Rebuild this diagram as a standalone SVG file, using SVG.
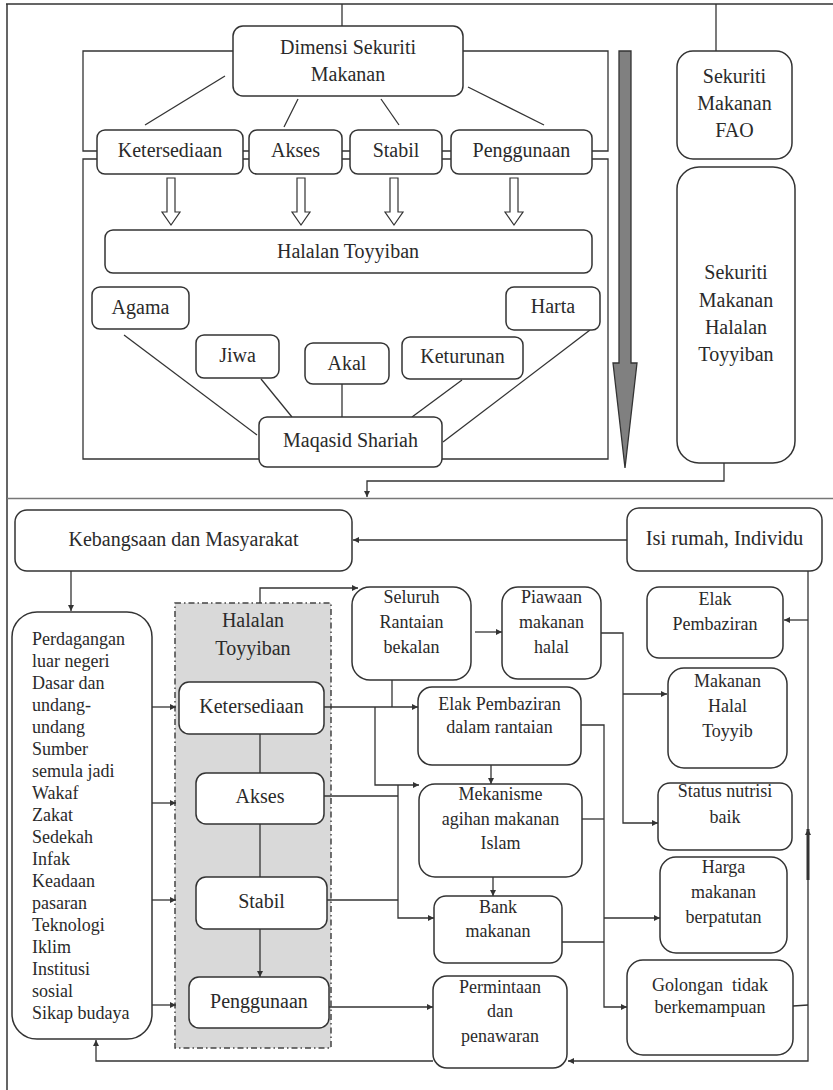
<svg xmlns="http://www.w3.org/2000/svg" width="833" height="1090" viewBox="0 0 833 1090">
<defs>
<style>
.b{fill:#fff;stroke:#333;stroke-width:1.5}
.c{fill:none;stroke:#333;stroke-width:1.3}
.t{font-family:"Liberation Serif","Times New Roman",serif;font-size:20px;fill:#2a2a2a;text-anchor:middle}
.s{font-size:18px}
.l{text-anchor:start}
.ha{fill:#fff;stroke:#333;stroke-width:1.2}
</style>
<marker id="a" viewBox="0 0 10 10" refX="10" refY="5" markerWidth="8" markerHeight="6" orient="auto" markerUnits="userSpaceOnUse"><path d="M0,0 L10,5 L0,10 z" fill="#333"/></marker>
</defs>
<rect width="833" height="1090" fill="#fff"/>
<g id="frame" fill="none">
<path d="M6,4 H833 M7,4 V1090" stroke="#333" stroke-width="1.5"/>
<path d="M7,498.5 H833" stroke="#777" stroke-width="1.5"/>
</g>
<g id="halal-dashed">
<rect x="175" y="603" width="156" height="445" fill="#d9d9d9" stroke="#444" stroke-width="1.5" stroke-dasharray="6 3 1.5 3"/>
<text class="t" x="253" y="627">Halalan</text>
<text class="t" x="253" y="655">Toyyiban</text>
</g>
<g id="connectors" class="c">
<path d="M342,4 V26"/>
<path d="M716,4 V51"/>
<path d="M233,51 H83 V151 H608 V51 H463"/>
<path d="M83,159 V459 H608 V159 Z"/>
<path d="M225,76 L145,125"/>
<path d="M298,99 L284,127"/>
<path d="M381,99 L399,125"/>
<path d="M468,87 L544,125"/>
<path d="M124,335 L257,435"/>
<path d="M261,379 L292,417"/>
<path d="M342,384 V417"/>
<path d="M462,380 L412,417"/>
<path d="M590,330 L443,442"/>
<path d="M724,463 V481 H367 V497" marker-end="url(#a)"/>
<path d="M627,540 H353" marker-end="url(#a)"/>
<path d="M71,571 V611" marker-end="url(#a)"/>
<path d="M152,707 H176" marker-end="url(#a)"/>
<path d="M152,803 H176" marker-end="url(#a)"/>
<path d="M152,900 H176" marker-end="url(#a)"/>
<path d="M152,1005 H176" marker-end="url(#a)"/>
<path d="M260,734 V773"/>
<path d="M260,824 V877"/>
<path d="M260,929 V977" marker-end="url(#a)"/>
<path d="M260,603 V588 H358" marker-end="url(#a)"/>
<path d="M475,632 H502" marker-end="url(#a)"/>
<path d="M324,707 H418" marker-end="url(#a)"/>
<path d="M392,680 V707"/>
<path d="M375,707 V785 H419" marker-end="url(#a)"/>
<path d="M324,796 H398"/>
<path d="M327,900 H398"/>
<path d="M398,785 V918 H434" marker-end="url(#a)"/>
<path d="M491,765 V784" marker-end="url(#a)"/>
<path d="M493,877 V896" marker-end="url(#a)"/>
<path d="M329,1007 H433" marker-end="url(#a)"/>
<path d="M601,633 H623 V823 H658" marker-end="url(#a)"/>
<path d="M623,694 H667" marker-end="url(#a)"/>
<path d="M581,725 H604 V1007 H627" marker-end="url(#a)"/>
<path d="M582,819 H604"/>
<path d="M562,942 H604"/>
<path d="M604,918 H660" marker-end="url(#a)"/>
<path d="M808,571 V1061 H568" marker-end="url(#a)"/>
<path d="M808,620 H784" marker-end="url(#a)"/>
<path d="M433,1061 H96 V1040" marker-end="url(#a)"/>
<path d="M793,1006 L808,1005"/>
<path d="M808,880 V829" stroke-width="3" marker-end="url(#a)"/>
</g>
<g id="hollow-arrows" class="ha">
<polygon points="167,178 175,178 175,212 180,212 171,225 162,212 167,212"/>
<polygon points="297,178 305,178 305,212 310,212 301,225 292,212 297,212"/>
<polygon points="390,178 398,178 398,212 403,212 394,225 385,212 390,212"/>
<polygon points="510,178 518,178 518,212 523,212 514,225 505,212 510,212"/>
</g>
<g id="gray-arrow">
<polygon points="619,51 631,51 631,363 637,363 625,468 613,363 619,363" fill="#808080" stroke="#333" stroke-width="1.3"/>
</g>
<g id="dimensi"><rect class="b" x="233" y="26" width="230" height="70" rx="10"/><text class="t" x="348" y="54">Dimensi Sekuriti</text><text class="t" x="348" y="81">Makanan</text></g>
<g id="ketersediaan-top"><rect class="b" x="97" y="130" width="146" height="44" rx="8"/><text class="t" x="170" y="157">Ketersediaan</text></g>
<g id="akses-top"><rect class="b" x="249" y="130" width="93" height="44" rx="8"/><text class="t" x="295.5" y="157">Akses</text></g>
<g id="stabil-top"><rect class="b" x="350" y="130" width="92" height="44" rx="8"/><text class="t" x="396" y="157">Stabil</text></g>
<g id="penggunaan-top"><rect class="b" x="451" y="130" width="141" height="44" rx="8"/><text class="t" x="521.5" y="157">Penggunaan</text></g>
<g id="halalan-top"><rect class="b" x="105" y="230" width="487" height="43" rx="8"/><text class="t" x="348" y="258">Halalan Toyyiban</text></g>
<g id="agama"><rect class="b" x="92" y="287" width="97" height="42" rx="8"/><text class="t" x="140.5" y="314">Agama</text></g>
<g id="jiwa"><rect class="b" x="196" y="335" width="83" height="43" rx="8"/><text class="t" x="237.5" y="362">Jiwa</text></g>
<g id="akal"><rect class="b" x="305" y="343" width="84" height="41" rx="8"/><text class="t" x="347" y="370">Akal</text></g>
<g id="keturunan"><rect class="b" x="402" y="337" width="121" height="42" rx="8"/><text class="t" x="462.5" y="363">Keturunan</text></g>
<g id="harta"><rect class="b" x="506" y="287" width="94" height="43" rx="8"/><text class="t" x="553" y="313">Harta</text></g>
<g id="maqasid"><rect class="b" x="259" y="417" width="183" height="50" rx="8"/><text class="t" x="350.5" y="447">Maqasid Shariah</text></g>
<g id="fao"><rect class="b" x="677" y="51" width="115" height="108" rx="16"/><text class="t" x="734.5" y="83">Sekuriti</text><text class="t" x="734.5" y="110">Makanan</text><text class="t" x="734.5" y="137">FAO</text></g>
<g id="smht"><rect class="b" x="677" y="167" width="118" height="296" rx="22"/><text class="t" x="736" y="279">Sekuriti</text><text class="t" x="736" y="307">Makanan</text><text class="t" x="736" y="334">Halalan</text><text class="t" x="736" y="361">Toyyiban</text></g>
<g id="kebangsaan"><rect class="b" x="15" y="510" width="337" height="61" rx="12"/><text class="t" x="183.5" y="546">Kebangsaan dan Masyarakat</text></g>
<g id="isi-rumah"><rect class="b" x="627" y="508" width="195" height="63" rx="12"/><text class="t" x="724.5" y="545" style="font-size:20.5px">Isi rumah, Individu</text></g>
<g id="perdagangan"><rect class="b" x="12" y="612" width="140" height="427" rx="25"/>
<text class="t s l" x="32" y="645">Perdagangan</text>
<text class="t s l" x="32" y="667">luar negeri</text>
<text class="t s l" x="32" y="689">Dasar dan</text>
<text class="t s l" x="32" y="711">undang-</text>
<text class="t s l" x="32" y="733">undang</text>
<text class="t s l" x="32" y="755">Sumber</text>
<text class="t s l" x="32" y="777">semula jadi</text>
<text class="t s l" x="32" y="799">Wakaf</text>
<text class="t s l" x="32" y="821">Zakat</text>
<text class="t s l" x="32" y="843">Sedekah</text>
<text class="t s l" x="32" y="865">Infak</text>
<text class="t s l" x="32" y="887">Keadaan</text>
<text class="t s l" x="32" y="909">pasaran</text>
<text class="t s l" x="32" y="931">Teknologi</text>
<text class="t s l" x="32" y="953">Iklim</text>
<text class="t s l" x="32" y="975">Institusi</text>
<text class="t s l" x="32" y="997">sosial</text>
<text class="t s l" x="32" y="1019">Sikap budaya</text>
</g>
<g id="ketersediaan"><rect class="b" x="179" y="682" width="145" height="52" rx="10"/><text class="t" x="251.5" y="713">Ketersediaan</text></g>
<g id="akses"><rect class="b" x="196" y="773" width="128" height="51" rx="10"/><text class="t" x="260" y="803">Akses</text></g>
<g id="stabil"><rect class="b" x="196" y="877" width="131" height="52" rx="10"/><text class="t" x="261.5" y="908">Stabil</text></g>
<g id="penggunaan"><rect class="b" x="189" y="977" width="140" height="51" rx="10"/><text class="t" x="259" y="1008">Penggunaan</text></g>
<g id="seluruh"><rect class="b" x="352" y="587" width="119" height="93" rx="18"/><text class="t s" x="411.5" y="603">Seluruh</text><text class="t s" x="411.5" y="628">Rantaian</text><text class="t s" x="411.5" y="653">bekalan</text></g>
<g id="piawaan"><rect class="b" x="502" y="587" width="99" height="92" rx="16"/><text class="t s" x="551.5" y="603">Piawaan</text><text class="t s" x="551.5" y="628">makanan</text><text class="t s" x="551.5" y="653">halal</text></g>
<g id="elak-rantaian"><rect class="b" x="418" y="687" width="163" height="78" rx="14"/><text class="t s" x="499.5" y="710">Elak Pembaziran</text><text class="t s" x="499.5" y="733">dalam rantaian</text></g>
<g id="mekanisme"><rect class="b" x="419" y="784" width="163" height="93" rx="16"/><text class="t s" x="500.5" y="800">Mekanisme</text><text class="t s" x="500.5" y="825">agihan makanan</text><text class="t s" x="500.5" y="849">Islam</text></g>
<g id="bank"><rect class="b" x="434" y="896" width="128" height="67" rx="12"/><text class="t s" x="498" y="913">Bank</text><text class="t s" x="498" y="937">makanan</text></g>
<g id="permintaan"><rect class="b" x="433" y="976" width="134" height="92" rx="14"/><text class="t s" x="500" y="993">Permintaan</text><text class="t s" x="500" y="1017">dan</text><text class="t s" x="500" y="1042">penawaran</text></g>
<g id="elak-pembaziran"><rect class="b" x="647" y="587" width="136" height="71" rx="12"/><text class="t s" x="715" y="605">Elak</text><text class="t s" x="715" y="630">Pembaziran</text></g>
<g id="makanan-halal"><rect class="b" x="668" y="668" width="119" height="100" rx="16"/><text class="t s" x="727.5" y="687">Makanan</text><text class="t s" x="727.5" y="712">Halal</text><text class="t s" x="727.5" y="737">Toyyib</text></g>
<g id="status"><rect class="b" x="658" y="783" width="134" height="67" rx="12"/><text class="t s" x="725" y="797">Status nutrisi</text><text class="t s" x="725" y="823">baik</text></g>
<g id="harga"><rect class="b" x="660" y="857" width="127" height="96" rx="16"/><text class="t s" x="723.5" y="873">Harga</text><text class="t s" x="723.5" y="898">makanan</text><text class="t s" x="723.5" y="923">berpatutan</text></g>
<g id="golongan"><rect class="b" x="627" y="960" width="166" height="95" rx="16"/><text class="t s" x="710" y="991" style="white-space:pre">Golongan  tidak</text><text class="t s" x="710" y="1013">berkemampuan</text></g>
</svg>
